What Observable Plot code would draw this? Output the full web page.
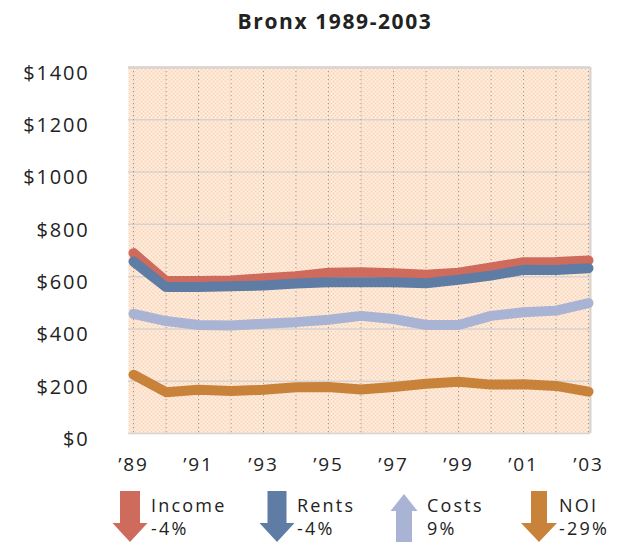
<!DOCTYPE html>
<html>
<head>
<meta charset="utf-8">
<script src="https://cdn.jsdelivr.net/npm/d3@7"></script>
<script src="https://cdn.jsdelivr.net/npm/@observablehq/plot@0.6"></script>
<style>
  html, body { margin: 0; padding: 0; background: #fff; }
  #page { position: relative; width: 629px; height: 546px; overflow: hidden; font-family: "Open Sans", sans-serif; color: #222; }
  #title { position: absolute; left: 135px; top: 7px; width: 400px; text-align: center; font-weight: 700; font-size: 21px; letter-spacing: 1.6px; line-height: 28px; }
  #chart { position: absolute; left: 0; top: 44px; }
  #legend { position: absolute; left: 0; top: 485px; }
</style>
</head>
<body>
<div id="page">
  <svg width="0" height="0" style="position:absolute">
    <defs>
      <pattern id="weave" width="4" height="4" patternUnits="userSpaceOnUse">
        <rect width="4" height="4" fill="#fff5df"></rect>
        <rect width="2" height="2" fill="#f9d3c1"></rect>
        <rect x="2" y="2" width="2" height="2" fill="#f9d3c1"></rect>
      </pattern>
    </defs>
  </svg>
  <div id="title">Bronx 1989-2003</div>
  <div id="chart"></div>
  <svg id="legend" width="629" height="61"></svg>
</div>
<script>
// Yearly averages per apartment, Bronx rent-stabilized buildings
const years   = [1989, 1990, 1991, 1992, 1993, 1994, 1995, 1996, 1997, 1998, 1999, 2000, 2001, 2002, 2003];
const income  = [690, 583, 583, 585, 594, 602, 615, 617, 613, 607, 615, 635, 655, 656, 662];
const rents   = [658, 560, 560, 563, 566, 574, 579, 579, 579, 575, 588, 604, 626, 625, 632];
const costs   = [458, 430, 415, 413, 420, 426, 435, 450, 438, 415, 415, 450, 464, 470, 499];
const noi     = [225, 158, 167, 163, 167, 177, 178, 168, 178, 190, 198, 187, 188, 182, 160];

const seriesNames = ["Income", "Rents", "Costs", "NOI"];
const changes     = ["-4%", "-4%", "9%", "-29%"];
const directions  = ["down", "down", "up", "down"];
const colors      = ["#cf6b5c", "#5f7ca4", "#a9b3d4", "#c9823a"];

const yTicks = [0, 200, 400, 600, 800, 1000, 1200, 1400];
const xTicks = [1989, 1991, 1993, 1995, 1997, 1999, 2001, 2003];

const rows = (values) => years.map((year, i) => ({year, value: values[i]}));
const lineOpts = (color) => ({
  x: "year", y: "value", stroke: color, strokeWidth: 10,
  strokeLinecap: "round", strokeLinejoin: "round"
});

const chart = Plot.plot({
  width: 629,
  height: 436,
  marginTop: 23,
  marginRight: 39,
  marginBottom: 47,
  marginLeft: 128,
  style: {fontFamily: "'Open Sans', sans-serif", fontSize: "19px", color: "#222", background: "transparent", letterSpacing: "1.8px"},
  x: {domain: [1989, 2003], insetLeft: 5, insetRight: 2, label: null},
  y: {domain: [0, 1400], label: null},
  marks: [
    Plot.frame({fill: "url(#weave)", stroke: null}),
    Plot.gridY(yTicks, {stroke: "#d8d3cf", strokeOpacity: 1, strokeWidth: 1.5}),
    Plot.gridX(years, {stroke: "#8f8a84", strokeOpacity: 0.85, strokeDasharray: "1.2,2.8"}),
    Plot.ruleY([1400], {stroke: "#d8d3cf", strokeWidth: 2.5}),
    Plot.ruleX([2003], {dx: 2, stroke: "#d8d3cf", strokeWidth: 2}),
    Plot.axisY(yTicks, {label: null, tickSize: 0, tickPadding: 39, dy: 6, fontSize: 20, tickFormat: d => "$" + d, fill: "#222", style: {letterSpacing: "2.4px"}}),
    Plot.axisX(xTicks, {label: null, tickSize: 0, tickPadding: 24, tickFormat: d => "\u2019" + String(d).slice(2), fill: "#222"}),
    Plot.line(rows(costs), lineOpts(colors[2])),
    Plot.line(rows(noi), lineOpts(colors[3])),
    Plot.line(rows(income), lineOpts(colors[0])),
    Plot.line(rows(rents), lineOpts(colors[1]))
  ]
});
document.getElementById("chart").appendChild(chart);

// Legend: an arrow per series showing the direction of the 1989-2003 change
const legendItems = [
  {cx: 130, hw: 17.5, sw: 10, text: 151},
  {cx: 277, hw: 17.5, sw: 9.5, text: 297},
  {cx: 404, hw: 13.5, sw: 8, text: 427},
  {cx: 539, hw: 18, sw: 8, text: 559}
];
const legend = d3.select("#legend");
legendItems.forEach((it, i) => {
  const top = 6, neck = 38, tip = 57;
  let pts;
  if (directions[i] === "down") {
    pts = [[it.cx - it.sw, top], [it.cx + it.sw, top], [it.cx + it.sw, neck], [it.cx + it.hw, neck],
           [it.cx, tip], [it.cx - it.hw, neck], [it.cx - it.sw, neck]];
  } else {
    const utip = 9, uneck = 26, ubot = 57;
    pts = [[it.cx, utip], [it.cx + it.hw, uneck], [it.cx + it.sw, uneck], [it.cx + it.sw, ubot],
           [it.cx - it.sw, ubot], [it.cx - it.sw, uneck], [it.cx - it.hw, uneck]];
  }
  legend.append("polygon").attr("points", pts.map(p => p.join(",")).join(" ")).attr("fill", colors[i]);
  const t = legend.append("text")
    .attr("font-family", "'Open Sans', sans-serif").attr("font-size", 18)
    .attr("letter-spacing", "2.2px").attr("fill", "#222");
  t.append("tspan").attr("x", it.text).attr("y", 27).text(seriesNames[i]);
  t.append("tspan").attr("x", it.text).attr("y", 50).text(changes[i]);
});
</script>
</body>
</html>
